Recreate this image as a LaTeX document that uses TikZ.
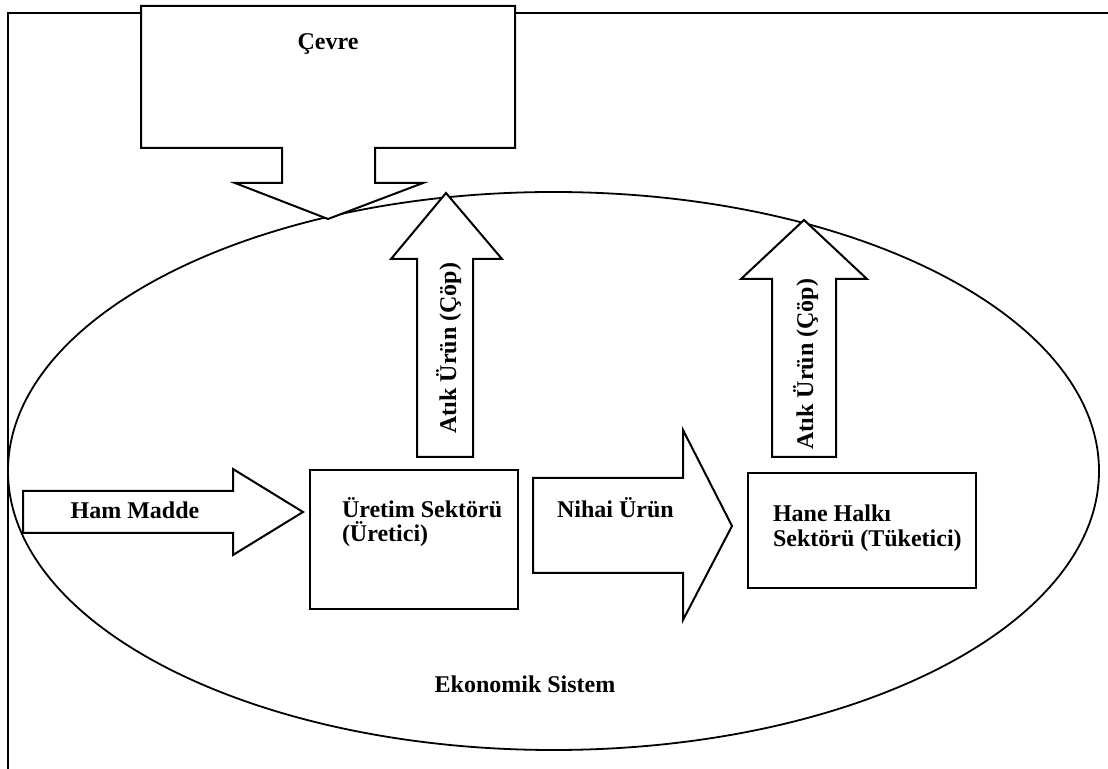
\documentclass[tikz,border=0pt]{standalone}
\usepackage{fontspec}
\setmainfont{Liberation Serif}
\begin{document}
\begin{tikzpicture}[x=0.5pt,y=-0.5pt, line width=1pt, line join=miter,
  lbl/.style={font=\fontsize{12}{12.2}\selectfont\bfseries, inner sep=0pt},
  sectorbox/.style={draw, fill=white, inner sep=0pt},
  blockarrow/.style={draw, fill=white}]
\useasboundingbox (0,0) rectangle (1108,769);
% outer frame (cut by the page at right and bottom)
\coordinate (fbl) at (8,769);
\coordinate (ftl) at (8,13);
\coordinate (ftr) at (1108,13);
\draw (fbl) -- (ftl) -- (ftr);
% economic system ellipse
\coordinate (eco) at (553.5,471);
\draw[line width=0.9pt] (eco) ellipse [x radius=272.75pt, y radius=139.5pt];
% environment callout
\draw[blockarrow] (141,6) -- (515,6) -- (515,148) -- (375,148) -- (375,183)
  -- (423,183) -- (328,219) -- (235,183) -- (282,183) -- (282,148)
  -- (141,148) -- cycle;
\node[lbl, anchor=base] (cevre) at (328,50) {Çevre};
% sector boxes
\node[sectorbox, minimum width=104pt, minimum height=69.5pt] (uretim) at (414,539.5) {};
\node[sectorbox, minimum width=114pt, minimum height=57.5pt] (hane) at (862,530.5) {};
% raw material arrow
\draw[blockarrow] (23,491) -- (233,491) -- (233,469) -- (303,512) -- (233,555)
  -- (233,533) -- (23,533) -- cycle;
\node[lbl, anchor=base] (ham) at (135,519) {Ham Madde};
% final product arrow
\draw[blockarrow] (533,478) -- (683,478) -- (683,430) -- (732,526) -- (683,620)
  -- (683,573) -- (533,573) -- cycle;
\node[lbl, anchor=base west] (nihai) at (556,518) {Nihai Ürün};
% waste arrows
\draw[blockarrow] (417,457) -- (417,259) -- (391,259) -- (446,193) -- (502,259)
  -- (473,259) -- (473,457) -- cycle;
\node[lbl, rotate=90, anchor=base] (atik1) at (456,348) {Atık Ürün (Çöp)};
\draw[blockarrow] (772,457) -- (772,279) -- (741,279) -- (804,220) -- (867,279)
  -- (836,279) -- (836,457) -- cycle;
\node[lbl, rotate=90, anchor=base] (atik2) at (813,364) {Atık Ürün (Çöp)};
% box texts (base anchor = baseline of last line)
\node[lbl, anchor=base west, align=left] (uretimT) at (341,542) {Üretim Sektörü\\(Üretici)};
\node[lbl, anchor=base west, align=left] (haneT) at (772,546) {Hane Halkı\\Sektörü (Tüketici)};
% system label
\node[lbl, anchor=base] (ekoT) at (525,692) {Ekonomik Sistem};
\end{tikzpicture}
\end{document}
